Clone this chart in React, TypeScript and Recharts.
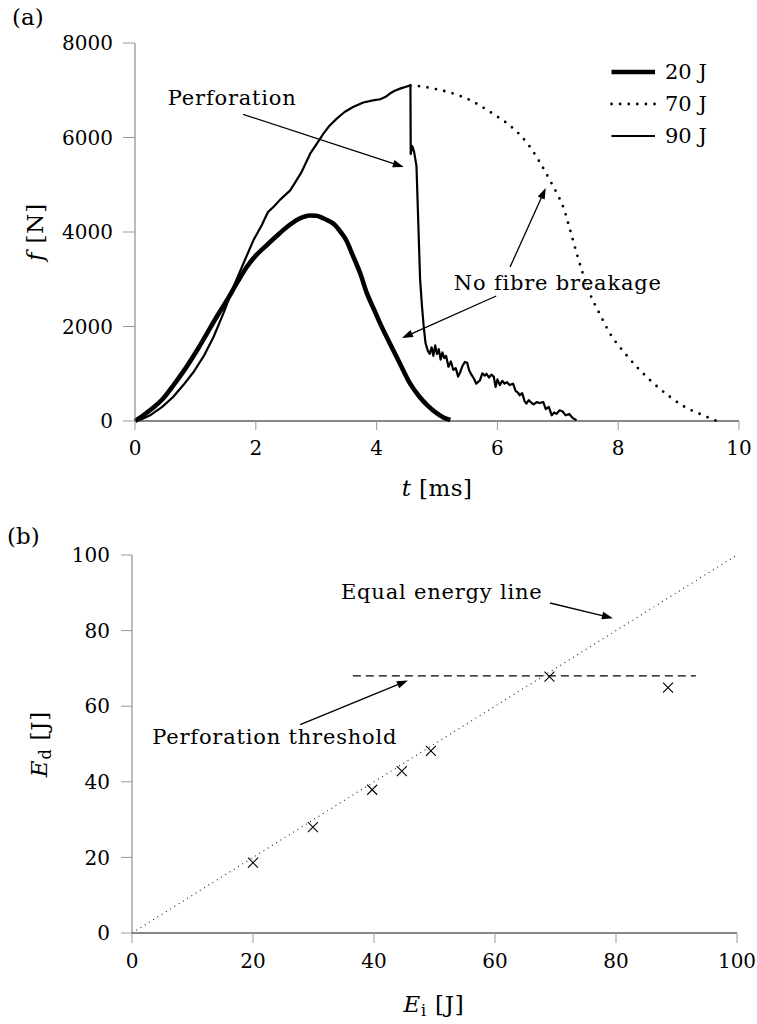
import React from 'react';
import {
  ComposedChart,
  Line,
  Scatter,
  XAxis,
  YAxis,
  ReferenceLine,
  ReferenceDot,
  Legend,
} from 'recharts';

const SERIF = '"DejaVu Serif", "Liberation Serif", serif';
const FS = 21;
const TICK_FS = 20;
const LABEL_FS = 23;

// ---------- (a) contact force histories ----------
const time20 = [0, 0.19, 0.32, 0.47, 0.65, 0.85, 1.02, 1.19, 1.35, 1.52, 1.7, 1.85, 2.0, 2.18, 2.35, 2.51, 2.7, 2.9, 3.0, 3.1, 3.2, 3.3, 3.4, 3.5, 3.6, 3.73, 3.84, 3.95, 4.06, 4.22, 4.4, 4.55, 4.7, 4.85, 5.0, 5.1, 5.22];
const force20 = [0, 170, 300, 480, 780, 1140, 1480, 1850, 2200, 2550, 2950, 3260, 3500, 3720, 3920, 4100, 4270, 4350, 4345, 4300, 4240, 4160, 4010, 3820, 3520, 3120, 2700, 2380, 2060, 1640, 1180, 800, 530, 320, 160, 80, 20];

const time70 = [4.56, 4.72, 5.0, 5.27, 5.55, 5.82, 6.0, 6.21, 6.4, 6.54, 6.7, 6.87, 7.0, 7.09, 7.2, 7.31, 7.42, 7.53, 7.7, 7.86, 8.1, 8.31, 8.6, 8.86, 9.1, 9.41, 9.63];
const force70 = [7104, 7084, 7020, 6929, 6790, 6590, 6440, 6250, 6020, 5800, 5480, 5094, 4780, 4530, 4060, 3560, 3100, 2700, 2250, 1860, 1450, 1143, 780, 508, 300, 120, 0];

const time90 = [0, 0.1, 0.25, 0.45, 0.63, 0.8, 0.97, 1.15, 1.3, 1.47, 1.63, 1.8, 1.96, 2.1, 2.2, 2.3, 2.4, 2.57, 2.75, 2.9, 3.0, 3.12, 3.22, 3.34, 3.47, 3.61, 3.78, 3.94, 4.06, 4.15, 4.22, 4.3, 4.4, 4.5, 4.56,
  4.565, 4.59, 4.62, 4.66, 4.69, 4.72, 4.75, 4.78, 4.81, 4.85, 4.88, 4.91, 4.94, 4.97, 5.0, 5.03, 5.06, 5.09, 5.12, 5.15, 5.19, 5.23, 5.27, 5.31, 5.35, 5.38, 5.42, 5.46, 5.5, 5.53, 5.57, 5.61, 5.65, 5.71, 5.75, 5.79, 5.82, 5.86, 5.9, 5.94, 5.97, 6.0, 6.04, 6.08, 6.12, 6.16, 6.2, 6.26, 6.3, 6.34, 6.37, 6.41, 6.45, 6.48, 6.52, 6.56, 6.6, 6.65, 6.7, 6.76, 6.8, 6.85, 6.9, 6.94, 6.98, 7.03, 7.08, 7.13, 7.19, 7.25, 7.31];
const force90 = [0, 30, 120, 300, 508, 760, 1037, 1400, 1778, 2300, 2836, 3350, 3824, 4150, 4420, 4540, 4680, 4882, 5250, 5658, 5850, 6081, 6250, 6399, 6540, 6646, 6740, 6787, 6810, 6860, 6930, 6990, 7040, 7080, 7104,
  5650, 5820, 5700, 5400, 4200, 3000, 2450, 2000, 1650, 1480, 1420, 1560, 1380, 1600, 1420, 1520, 1300, 1450, 1330, 1380, 1150, 1260, 1080, 1120, 940, 1020, 1160, 1250, 1230, 1080, 980, 900, 790, 860, 1010, 960, 1000, 920, 980, 940, 720, 880, 760, 850, 790, 820, 760, 790, 640, 600, 545, 590, 420, 370, 440, 390, 350, 400, 380, 402, 250, 300, 120, 180, 150, 226, 200, 120, 150, 60, 15];

const timeTicks = [0, 2, 4, 6, 8, 10];
const forceTicks = [0, 2000, 4000, 6000, 8000];
const seriesNames = ['20 J', '70 J', '90 J'];

// annotation anchors for (a), in data units [t, f]
const perforationLabel = [1.61, 6850];
const perforationArrow = [[1.79, 6490], [4.45, 5376]];
const noBreakageLabel = [7.0, 2920];
const noBreakageArrowUp = [[6.21, 3259], [6.8, 4931]];
const noBreakageArrowDown = [[5.98, 2645], [4.42, 1757]];

// ---------- (b) dissipated vs impact energy ----------
const impactEnergy = [20, 29.9, 39.7, 44.6, 49.4, 69, 88.6];
const dissipatedEnergy = [18.6, 28, 37.9, 42.8, 48.2, 67.8, 64.9];
const energyTicks = [0, 20, 40, 60, 80, 100];
const equalEnergyEnds = [0, 100];
const perforationThreshold = 68;
const thresholdSpan = [36.5, 93.2];

// annotation anchors for (b), in data units [Ei, Ed]
const equalLineLabel = [51.2, 90.2];
const equalLineArrow = [[69.1, 87.3], [79.5, 83.3]];
const thresholdLabel = [23.6, 52];
const thresholdArrow = [[27.8, 55.1], [45.6, 66.8]];

const zip = (xs: number[], ys: number[], kx: string, ky: string) =>
  xs.map((x, i) => ({ [kx]: x, [ky]: ys[i] }));

const data20 = zip(time20, force20, 't', 'f');
const data70 = zip(time70, force70, 't', 'f');
const data90 = zip(time90, force90, 't', 'f');
const energyPoints = zip(impactEnergy, dissipatedEnergy, 'ei', 'ed');
const equalLine = zip(equalEnergyEnds, equalEnergyEnds, 'ei', 'ed');

const legendItems = [
  { name: seriesNames[0], width: 4.6, dash: undefined as string | undefined, cap: 'butt' as const },
  { name: seriesNames[1], width: 2.8, dash: '0 8.6', cap: 'round' as const },
  { name: seriesNames[2], width: 2.2, dash: undefined as string | undefined, cap: 'butt' as const },
];

const renderLegend = () => (
  <div style={{ fontFamily: SERIF, fontSize: FS, color: '#000' }}>
    {legendItems.map((s) => (
      <div key={s.name} style={{ display: 'flex', alignItems: 'center', height: 32 }}>
        <svg width={46} height={10} style={{ display: 'block' }}>
          <line x1={1.5} y1={5} x2={45} y2={5} stroke="#000" strokeWidth={s.width}
            strokeDasharray={s.dash} strokeLinecap={s.cap} />
        </svg>
        <span style={{ marginLeft: 9, whiteSpace: 'pre' }}>{s.name}</span>
      </div>
    ))}
  </div>
);

const noteShape = (label: string) => (props: any) => (
  <text x={props.cx} y={props.cy} dy="0.35em" textAnchor="middle" fontFamily={SERIF}
    fontSize={FS} letterSpacing={0.8} fill="#000">{label}</text>
);

const arrowShape = (props: any) => {
  const { x1, y1, x2, y2 } = props;
  const ang = Math.atan2(y2 - y1, x2 - x1);
  const len = 11;
  const half = 3.8;
  const bx = x2 - len * Math.cos(ang);
  const by = y2 - len * Math.sin(ang);
  const px = -Math.sin(ang) * half;
  const py = Math.cos(ang) * half;
  return (
    <g>
      <line x1={x1} y1={y1} x2={bx + Math.cos(ang) * 2} y2={by + Math.sin(ang) * 2} stroke="#000" strokeWidth={1.3} />
      <polygon points={`${x2},${y2} ${bx + px},${by + py} ${bx - px},${by - py}`} fill="#000" />
    </g>
  );
};

const crossShape = (props: any) => {
  const { cx, cy } = props;
  const s = 5;
  return (
    <path d={`M${cx - s},${cy - s}L${cx + s},${cy + s}M${cx - s},${cy + s}L${cx + s},${cy - s}`}
      stroke="#000" strokeWidth={1.1} fill="none" />
  );
};

const tickFont = { fill: '#000', fontSize: TICK_FS, fontFamily: SERIF };
const seg = (p: number[][]) => p.map(([x, y]) => ({ x, y }));

function ForceChart() {
  return (
    <ComposedChart width={757} height={480} margin={{ top: 43, right: 18, bottom: 19, left: 75 }}>
      <XAxis type="number" dataKey="t" domain={[0, 10]} ticks={timeTicks} interval={0}
        height={40} tickSize={9} tickMargin={11} tick={tickFont}
        axisLine={{ stroke: '#111', strokeWidth: 1.2 }} tickLine={{ stroke: '#999' }} />
      <YAxis type="number" domain={[0, 8000]} ticks={forceTicks} interval={0}
        width={60} tickSize={12} tickMargin={10} tick={tickFont}
        axisLine={{ stroke: '#777' }} tickLine={{ stroke: '#999' }} />
      <Line data={data70} dataKey="f" name={seriesNames[1]} type="monotone" stroke="#000"
        strokeWidth={2.8} strokeDasharray="0 8.6" strokeLinecap="round" dot={false}
        isAnimationActive={false} />
      <Line data={data90} dataKey="f" name={seriesNames[2]} type="linear" stroke="#000"
        strokeWidth={2.2} strokeLinejoin="round" dot={false} isAnimationActive={false} />
      <Line data={data20} dataKey="f" name={seriesNames[0]} type="monotone" stroke="#000"
        strokeWidth={4.6} strokeLinejoin="round" dot={false} isAnimationActive={false} />
      <ReferenceLine segment={seg(perforationArrow)} shape={arrowShape} ifOverflow="visible" />
      <ReferenceLine segment={seg(noBreakageArrowUp)} shape={arrowShape} ifOverflow="visible" />
      <ReferenceLine segment={seg(noBreakageArrowDown)} shape={arrowShape} ifOverflow="visible" />
      <ReferenceDot x={perforationLabel[0]} y={perforationLabel[1]} r={0}
        shape={noteShape('Perforation')} ifOverflow="visible" />
      <ReferenceDot x={noBreakageLabel[0]} y={noBreakageLabel[1]} r={0}
        shape={noteShape('No fibre breakage')} ifOverflow="visible" />
      <Legend content={renderLegend} layout="vertical" align="center" verticalAlign="middle"
        wrapperStyle={{ top: 56, left: 610, width: 140, height: 100 }} />
    </ComposedChart>
  );
}

function EnergyChart() {
  return (
    <ComposedChart width={757} height={524} margin={{ top: 55, right: 20, bottom: 51, left: 72 }}>
      <XAxis type="number" dataKey="ei" domain={[0, 100]} ticks={energyTicks} interval={0}
        height={40} tickSize={10} tickMargin={11} tick={tickFont}
        axisLine={{ stroke: '#111', strokeWidth: 1.2 }} tickLine={{ stroke: '#999' }} />
      <YAxis type="number" dataKey="ed" domain={[0, 100]} ticks={energyTicks} interval={0}
        width={60} tickSize={11} tickMargin={11} tick={tickFont}
        axisLine={{ stroke: '#777' }} tickLine={{ stroke: '#999' }} />
      <Line data={equalLine} dataKey="ed" type="linear" stroke="#222" strokeWidth={1.1}
        strokeDasharray="1 4" dot={false} isAnimationActive={false} />
      <ReferenceLine
        segment={[{ x: thresholdSpan[0], y: perforationThreshold }, { x: thresholdSpan[1], y: perforationThreshold }]}
        stroke="#000" strokeWidth={1.3} strokeDasharray="8 5" ifOverflow="visible" />
      <Scatter data={energyPoints} dataKey="ed" shape={crossShape} isAnimationActive={false} />
      <ReferenceLine segment={seg(equalLineArrow)} shape={arrowShape} ifOverflow="visible" />
      <ReferenceLine segment={seg(thresholdArrow)} shape={arrowShape} ifOverflow="visible" />
      <ReferenceDot x={equalLineLabel[0]} y={equalLineLabel[1]} r={0}
        shape={noteShape('Equal energy line')} ifOverflow="visible" />
      <ReferenceDot x={thresholdLabel[0]} y={thresholdLabel[1]} r={0}
        shape={noteShape('Perforation threshold')} ifOverflow="visible" />
    </ComposedChart>
  );
}

function Labels() {
  const common = { fontFamily: SERIF, fontSize: LABEL_FS, fill: '#000' };
  return (
    <svg width={757} height={1024} style={{ position: 'absolute', left: 0, top: 0, pointerEvents: 'none' }}>
      <text x={12} y={25} {...common}>(a)</text>
      <text x={7} y={544} {...common}>(b)</text>
      <text x={43} y={232} textAnchor="middle" transform="rotate(-90 43 232)" {...common} letterSpacing={0.8}>
        <tspan fontStyle="italic">f</tspan> [N]
      </text>
      <text x={437} y={496} textAnchor="middle" {...common} letterSpacing={0.4}>
        <tspan fontStyle="italic">t</tspan> [ms]
      </text>
      <text x={47} y={744} textAnchor="middle" transform="rotate(-90 47 744)" {...common} letterSpacing={0.8}>
        <tspan fontStyle="italic">E</tspan>
        <tspan fontSize={16} dy={4}>d</tspan>
        <tspan dy={-4}> [J]</tspan>
      </text>
      <text x={434} y={1012} textAnchor="middle" {...common} letterSpacing={0.8}>
        <tspan fontStyle="italic">E</tspan>
        <tspan fontSize={16} dy={4}>i</tspan>
        <tspan dy={-4}> [J]</tspan>
      </text>
    </svg>
  );
}

export default function App() {
  return (
    <div style={{ position: 'absolute', left: 0, top: 0, width: 757, height: 1024, background: '#fff' }}>
      <div style={{ position: 'absolute', left: 0, top: 0 }}>
        <ForceChart />
      </div>
      <div style={{ position: 'absolute', left: 0, top: 500 }}>
        <EnergyChart />
      </div>
      <Labels />
    </div>
  );
}
